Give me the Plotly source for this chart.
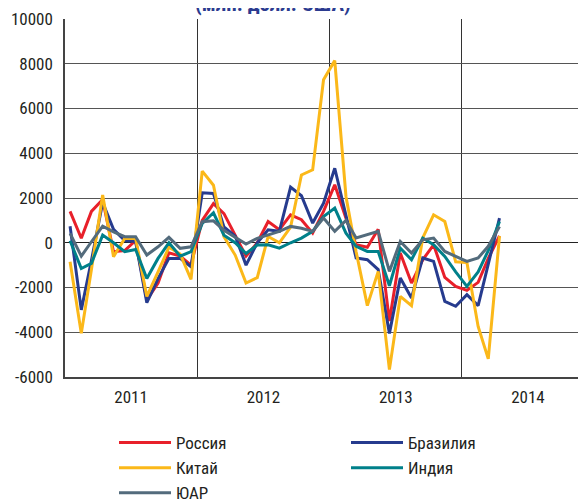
import pandas as pd
import plotly.graph_objects as go

# Monthly data, Jan 2011 - Apr 2014 (млн. долл. США)
months = pd.date_range("2011-01-01", periods=40, freq="MS") + pd.Timedelta(days=14)

russia = [1400, 200, 1400, 1930, -400, -350, 100, -2550, -1800, -450, -600, -1000,
          1000, 1750, 1300, 340, -600, 0, 950, 580, 1250, 1030, 430, 1400,
          2590, 1100, -90, -200, 600, -3500, -460, -1800, -760, -90, -1550, -1950,
          -2130, -1770, -700, 310]
brazil = [740, -3000, -800, 1800, 600, 100, 50, -2680, -1600, -700, -700, -1070,
          2230, 2200, 710, 300, -1000, 0, 580, 510, 2490, 2100, 880, 1770,
          3330, 1200, -680, -760, -1200, -4050, -1580, -2470, -680, -830, -2620, -2840,
          -2320, -2810, -1000, 1100]
china = [-850, -4050, -1200, 2130, -620, 190, 190, -2400, -1300, -200, -500, -1640,
         3200, 2570, 270, -550, -1800, -1560, 280, 0, 700, 3030, 3260, 7280,
         8140, 2070, -400, -2810, -1280, -5670, -2400, -2810, 220, 1250, 950, -850,
         -880, -3740, -5190, 300]
india = [90, -1150, -920, 340, 0, -400, -300, -1600, -700, 0, -600, -400,
         860, 1340, 340, 0, -480, -100, -90, -240, 0, 210, 510, 1170,
         1550, 430, -160, -390, -390, -1920, -240, -760, 210, -90, -610, -1300,
         -1950, -1300, -350, 950]
sa = [420, -600, 45, 740, 490, 270, 270, -550, -180, 240, -250, -180,
      940, 980, 560, 240, -60, 200, 360, 510, 730, 650, 510, 1100,
      510, 1000, 210, 360, 510, -1280, 60, -460, 130, 210, -390, -610,
      -830, -680, -160, 730]

series_names = ["Россия", "Бразилия", "Китай", "Индия", "ЮАР"]
series_values = [russia, brazil, china, india, sa]
series_colors = ["#e8202a", "#263b8e", "#fbb819", "#00808a", "#536b7c"]
series_legend = ["legend", "legend2", "legend", "legend2", "legend"]

title_text = "(млн. долл. США)"
yticks = [-6000, -4000, -2000, 0, 2000, 4000, 6000, 8000, 10000]
ytick_text = [str(v) for v in yticks]

FONT = "Liberation Sans Narrow, Arial Narrow, Roboto Condensed, DejaVu Sans Condensed, sans-serif"

W, H = 586, 504
fig = go.Figure()
for name, vals, col, lg in zip(series_names, series_values, series_colors, series_legend):
    fig.add_trace(go.Scatter(x=months, y=vals, name=name, mode="lines", legend=lg,
                             line=dict(color=col, width=3)))

legend_common = dict(orientation="v", xref="container", yref="container",
                     xanchor="left", yanchor="top", itemwidth=52,
                     font=dict(size=17), tracegroupgap=0, itemclick=False,
                     bgcolor="rgba(0,0,0,0)")
fig.update_layout(
    width=W, height=H,
    margin=dict(l=57, r=0, t=11, b=135, autoexpand=False),
    paper_bgcolor="white", plot_bgcolor="white",
    font=dict(family=FONT, size=17, color="#231f20"),
    showlegend=True,
    legend=dict(x=106 / W, y=(H - 417) / H, **legend_common),
    legend2=dict(x=338 / W, y=(H - 417) / H, **legend_common),
)
fig.update_xaxes(
    type="date", range=["2011-01-01", "2015-01-01"],
    tick0="2011-01-01", dtick="M12", tickformat="%Y", ticklabelmode="period",
    showgrid=True, gridcolor="#333", gridwidth=1,
    showline=True, linecolor="#444", linewidth=1.5,
    ticks="", ticklabelstandoff=4, automargin=False, tickangle=0,
)
fig.update_yaxes(
    range=[-6000, 10000], tickvals=yticks, ticktext=ytick_text,
    showgrid=True, gridcolor="#555", gridwidth=1,
    zeroline=True, zerolinecolor="#222", zerolinewidth=1.2,
    showline=True, linecolor="#444", linewidth=1.5,
    ticks="", ticklabelstandoff=7, automargin=False,
)
fig.add_annotation(text="<b>" + title_text + "</b>", xref="paper", yref="paper",
                   x=0.394, y=1.0424, xanchor="center", yanchor="middle", showarrow=False,
                   font=dict(size=21, color="#2b3b8f", family=FONT))

fig.write_html("out.html")
